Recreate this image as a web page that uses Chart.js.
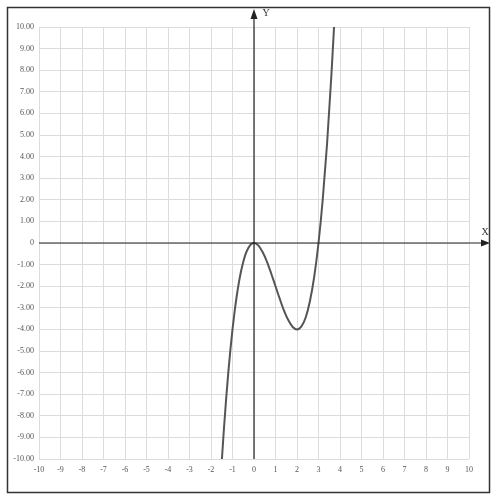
<!DOCTYPE html>
<html>
<head>
<meta charset="utf-8">
<script src="https://cdn.jsdelivr.net/npm/chart.js@4"></script>
<style>
  html, body { margin: 0; padding: 0; background: #fff; }
  #wrap { width: 500px; height: 502px; }
</style>
</head>
<body>
<div id="wrap"><canvas id="chart" width="500" height="502"></canvas></div>
<script>
// values
const curveX = [-1.5, -1.4, -1.3, -1.2, -1.1, -1.0, -0.9, -0.8, -0.7, -0.6, -0.5, -0.4, -0.3, -0.2, -0.1, 0,
  0.2, 0.4, 0.6, 0.8, 1.0, 1.2, 1.4, 1.6, 1.8, 2.0, 2.2, 2.4, 2.6, 2.8, 3.0, 3.2, 3.4, 3.6, 3.7, 3.75];
const curveY = [-10.13, -8.62, -7.27, -6.05, -4.96, -4.0, -3.16, -2.43, -1.81, -1.3, -0.88, -0.54, -0.3, -0.13, -0.03, 0,
  -0.11, -0.42, -0.86, -1.41, -2.0, -2.59, -3.14, -3.58, -3.89, -4.0, -3.87, -3.46, -2.7, -1.57, 0, 2.05, 4.62, 7.78, 9.58, 10.55];
const xTicks = [-10, -9, -8, -7, -6, -5, -4, -3, -2, -1, 0, 1, 2, 3, 4, 5, 6, 7, 8, 9, 10];
const yTicks = [-10, -9, -8, -7, -6, -5, -4, -3, -2, -1, 0, 1, 2, 3, 4, 5, 6, 7, 8, 9, 10];

const tickFont = { family: "Liberation Serif", size: 8 };

// frame, axes with arrows, axis names
const axesPlugin = {
  id: "axes",
  afterDatasetsDraw(chart) {
    const c = chart.ctx;
    const xs = chart.scales.x, ys = chart.scales.y;
    const x0 = xs.getPixelForValue(0), y0 = ys.getPixelForValue(0);
    const area = chart.chartArea;
    c.save();
    c.strokeStyle = "#222";
    c.fillStyle = "#222";
    c.lineWidth = 1.2;
    // x axis
    c.beginPath();
    c.moveTo(area.left, y0);
    c.lineTo(484, y0);
    c.stroke();
    c.beginPath();
    c.moveTo(490, y0);
    c.lineTo(481, y0 - 3.5);
    c.lineTo(481, y0 + 3.5);
    c.closePath();
    c.fill();
    // y axis
    c.beginPath();
    c.moveTo(x0, area.bottom);
    c.lineTo(x0, 15);
    c.stroke();
    c.beginPath();
    c.moveTo(x0, 9);
    c.lineTo(x0 - 3.5, 19);
    c.lineTo(x0 + 3.5, 19);
    c.closePath();
    c.fill();
    // names
    c.font = "10px 'Liberation Serif'";
    c.fillStyle = "#333";
    c.textAlign = "center";
    c.textBaseline = "middle";
    c.fillText("Y", x0 + 12, 13);
    c.fillText("X", 485, y0 - 11);
    // outer frame
    c.strokeStyle = "#333";
    c.lineWidth = 1.5;
    c.strokeRect(7.5, 7.5, 482, 485);
    c.restore();
  }
};

new Chart(document.getElementById("chart").getContext("2d"), {
  type: "scatter",
  data: {
    datasets: [{
      data: curveX.map((x, i) => ({ x: x, y: curveY[i] })),
      showLine: true,
      borderColor: "#555",
      borderWidth: 2,
      pointRadius: 0,
      cubicInterpolationMode: "monotone",
      fill: false,
    }],
  },
  options: {
    responsive: false,
    animation: false,
    layout: { padding: { left: 0, top: 27, right: 31, bottom: 21 } },
    plugins: { legend: { display: false }, tooltip: { enabled: false } },
    scales: {
      x: {
        type: "linear",
        min: -10,
        max: 10,
        afterBuildTicks: (axis) => { axis.ticks = xTicks.map((v) => ({ value: v })); },
        afterFit: (axis) => { axis.height = 22; },
        grid: { color: "#dcdcdc", lineWidth: 1, drawTicks: false },
        border: { display: false },
        ticks: {
          padding: 6,
          color: "#555",
          font: tickFont,
          maxRotation: 0,
          autoSkip: false,
          callback: (v) => String(v),
        },
      },
      y: {
        type: "linear",
        min: -10,
        max: 10,
        afterBuildTicks: (axis) => { axis.ticks = yTicks.map((v) => ({ value: v })); },
        afterFit: (axis) => { axis.width = 39; },
        grid: { color: "#dcdcdc", lineWidth: 1, drawTicks: false },
        border: { display: false },
        ticks: {
          padding: 5,
          color: "#555",
          font: tickFont,
          autoSkip: false,
          callback: (v) => (v === 0 ? "0" : v.toFixed(2)),
        },
      },
    },
  },
  plugins: [axesPlugin],
});
</script>
</body>
</html>
